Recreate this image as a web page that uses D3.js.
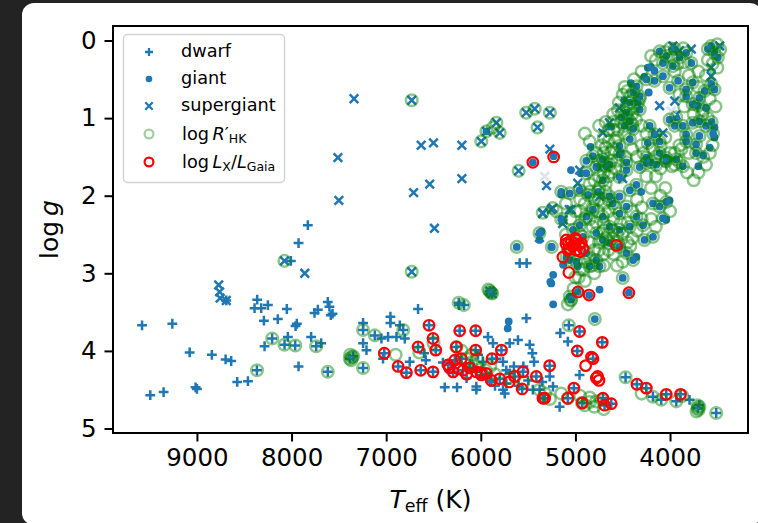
<!DOCTYPE html>
<html>
<head>
<meta charset="utf-8">
<script src="https://cdn.jsdelivr.net/npm/d3@7"></script>
<style>
	html, body { margin: 0; padding: 0; background: #232323; }
	svg { display: block; }
	text { font-family: "DejaVu Sans", sans-serif; fill: #000; }
</style>
</head>
<body>
<div id="chart"></div>
<script>
'use strict';

// [Teff (K), log g]
var dwarf = [
	[9580,3.67],[9260,3.65],[9077,4.02],[8842,4.05],[8697,4.11],[8638,4.13],[9493,4.57],[9352,4.53],
	[9014,4.47],[9000,4.49],[8574,4.40],[8461,4.39],[8366,4.25],[8363,3.34],[8391,3.45],[8321,3.45],
	[8250,3.41],[8292,3.61],[8145,3.59],[8050,3.46],[7958,3.68],[7944,3.65],[7793,3.82],[7617,3.37],
	[7600,3.43],[7757,3.51],[7722,3.47],[7585,3.54],[8205,3.84],[8285,3.94],[8074,3.92],[7962,3.93],
	[8039,3.82],[7926,4.20],[7740,3.94],[7687,3.90],[7617,4.27],[7828,2.38],[7926,2.61],[8007,2.84],
	[8690,3.35],[7567,3.52],[6663,3.46],[6230,3.41],[6177,3.41],[6955,3.56],[6955,3.64],[7244,3.64],
	[7244,3.73],[7120,3.80],[7050,3.84],[6856,3.67],[6821,3.73],[6980,3.82],[6891,3.82],[6803,3.84],
	[7244,3.90],[7208,3.99],[7384,4.10],[7349,4.07],[7244,4.22],[7033,4.10],[6581,4.12],[6599,4.03],
	[6751,4.14],[6381,4.47],[6251,4.47],[6047,4.46],[6047,4.50],[5765,4.50],[5747,4.55],[5518,3.58],
	[5607,3.86],[5695,3.90],[5483,3.92],[5455,4.03],[5437,4.14],[5924,3.82],[5871,3.90],[5835,4.10],
	[5765,4.14],[5730,4.25],[5695,4.29],[5730,4.42],[6117,4.16],[6082,4.22],[6029,4.05],[5976,4.14],
	[5378,4.50],[5589,2.87],[5515,2.87],[6233,3.38],[5905,3.23],[5880,3.26],[5069,3.67],[5160,3.77],
	[5080,3.88],[4956,3.75],[4716,3.89],[4980,4.00],[4814,4.10],[4956,4.31],[5167,4.72],[5272,4.33],
	[5237,4.46],[4470,4.34],[4181,4.59],[4093,4.63],[4040,4.56],[3889,4.56],[3934,4.65],[3706,4.74],
	[3690,4.70],[3512,4.80],[3794,4.63],[4350,4.43],[4251,4.48],[5016,4.48],[5080,4.61],[4928,4.67],
	[4709,4.61],[4692,4.70],[4621,4.68],[6223,3.74],[6054,3.74],[6547,3.67],[6505,3.84],[6476,3.99],
	[6663,3.95],[7020,4.03],[6874,4.20],[6786,4.28],[6635,4.25],[6505,4.27],[6258,3.95],[6054,3.99],
	[5782,3.99],[5882,4.10],[6346,4.18],[6275,4.12],[6205,4.10],[6293,4.27],[6187,4.25],[6117,4.22],
	[6047,4.27],[5994,4.31],[5941,4.29],[5888,4.38],[5800,4.36],[5642,4.33],[5554,4.27],[5413,4.33],
	[5563,4.49],[5343,4.61],[5325,4.61],[5272,4.19],[5900,4.40],[5850,4.45],[5600,4.45],[5500,4.38],
	[5450,4.50],[5350,4.40],[6400,4.15],[6150,4.35],[5650,4.20],[5550,4.20]
];

var giant = [
	[4110,0.14],[4040,0.20],[3950,0.11],[3900,0.22],[3830,0.16],[3775,0.29],[4075,0.29],[3970,0.33],
	[3565,0.07],[3530,0.16],[3495,0.22],[3600,0.11],[4235,0.35],[4165,0.39],[4250,0.50],[4165,0.52],
	[4075,0.46],[4355,0.59],[4390,0.67],[4320,0.72],[4425,0.80],[4340,0.80],[4225,0.67],[4460,0.93],
	[4515,0.99],[4425,1.04],[4480,1.10],[4390,1.14],[4320,0.89],[4005,0.61],[3915,0.52],[3830,0.63],
	[3760,0.54],[3830,0.72],[3690,0.74],[3635,0.65],[3565,0.56],[3530,0.63],[3705,0.84],[3620,0.87],
	[3760,0.82],[4005,1.02],[3935,0.99],[3950,1.10],[3865,1.10],[3830,1.21],[3760,1.06],[3690,1.04],
	[3620,1.10],[3530,1.12],[3530,1.25],[3725,1.34],[3690,1.23],[3830,1.30],[4215,1.10],[4165,1.21],
	[4235,1.32],[4110,1.30],[4110,1.45],[4040,1.51],[4250,1.51],[4200,1.57],[3935,1.53],[3865,1.62],
	[3725,1.45],[4815,1.49],[4710,1.53],[4535,1.47],[4460,1.57],[4885,1.55],[4675,1.62],[4535,1.36],
	[4425,1.27],[4840,1.37],[4945,1.71],[5047,1.67],[4520,1.45],[4766,1.63],[4625,1.11],[4485,0.77],
	[4414,0.55],[4273,0.47],[4203,0.34],[5150,1.95],[5060,1.97],[4955,1.93],[4865,1.99],[4760,1.95],
	[4640,2.01],[4535,2.01],[4425,1.93],[4355,1.86],[4305,1.95],[4885,1.71],[4780,1.63],[4640,1.60],
	[4710,1.80],[4535,1.76],[4460,1.67],[4320,1.63],[4250,1.58],[4145,1.60],[4040,1.56],[4180,2.10],
	[4110,2.14],[4040,2.08],[4005,2.06],[4075,2.29],[4040,2.31],[4285,2.38],[4270,2.57],[4180,2.53],
	[4605,2.10],[4535,2.23],[4460,2.14],[4355,2.27],[4425,2.40],[4535,2.44],[4640,2.40],[4710,2.27],
	[4815,2.18],[4885,2.27],[4955,2.38],[5025,2.44],[4920,2.53],[4780,2.48],[4710,2.57],[4640,2.61],
	[4535,2.66],[4460,2.74],[4390,2.83],[4355,2.79],[4885,2.74],[4780,2.83],[4850,2.91],[4745,2.91],
	[4990,2.85],[4975,2.91],[5060,2.83],[5095,2.79],[5255,2.66],[5360,2.46],[5380,2.57],[5255,3.13],
	[5235,3.02],[5130,2.89],[5620,2.66],[5250,2.66],[5265,3.11],[5235,3.40],[4795,3.59],[4745,3.21],
	[4435,3.25],[5045,3.34],[5060,3.30],[5150,2.30],[5380,2.48],[4500,3.06],[5715,3.71],[5705,3.62],
	[5940,1.17],[4975,3.24],[4855,3.28],[5450,1.57],[5230,1.49],[5150,1.98],[3560,1.05],[3545,1.20],
	[3580,1.38],[3650,1.48],[3700,1.62]
];

var supergiant = [
	[7340,0.75],[6730,0.77],[7510,1.51],[7500,2.06],[6630,1.35],[6500,1.32],[6200,1.35],[6710,1.96],
	[6540,1.85],[6200,1.78],[6490,2.42],[7860,3.00],[6730,2.98],[5940,1.17],[5835,1.06],[5800,1.19],
	[5995,1.30],[5520,0.93],[5430,0.88],[5270,0.93],[5400,1.12],[5600,1.68],[5270,1.40],[5305,1.87],
	[5345,2.22],[5240,2.16],[5380,2.54],[5905,3.23],[5880,3.26],[8075,2.84],[8770,3.15],[8760,3.24],
	[8755,3.32],[8690,3.35],[3970,0.07],[3900,0.13],[3775,0.11],[3475,0.07],[3565,0.35],[3565,0.46],
	[4535,0.87],[4640,1.06],[4710,1.19],[4110,0.84],[3950,0.78],[3938,0.96],[4075,1.19],[4145,1.19],
	[4955,1.67],[4975,1.84],[4745,2.01],[4500,1.78],[5255,2.18],[5345,2.23],[5130,2.31],[5045,2.18],
	[5065,2.18],[5135,2.36]
];

// pale markers under the giant branch
var faint = [[5325,1.75],[3988,0.91]];

var hk = [
	[4110,0.14],[4040,0.20],[3950,0.11],[3900,0.22],[3830,0.16],[3775,0.29],[4075,0.29],[3970,0.33],
	[4000,0.10],[3860,0.10],[3565,0.07],[3530,0.16],[3495,0.22],[3600,0.11],[3500,0.05],[3470,0.12],
	[4250,0.50],[4165,0.52],[4075,0.46],[4355,0.59],[4390,0.67],[4320,0.72],[4425,0.80],[4340,0.80],
	[4460,0.93],[4515,0.99],[4425,1.04],[4480,1.10],[4390,1.14],[4320,0.89],[4400,0.95],[4450,1.00],
	[4360,1.02],[4420,0.88],[4005,0.61],[3915,0.52],[3830,0.63],[3760,0.54],[3830,0.72],[3690,0.74],
	[3635,0.65],[3565,0.56],[3530,0.63],[3705,0.84],[3760,0.82],[4005,1.02],[3935,0.99],[3950,1.10],
	[3865,1.10],[3830,1.21],[3760,1.06],[3690,1.04],[3620,1.10],[3725,1.34],[3690,1.23],[3830,1.30],
	[4215,1.10],[4165,1.21],[4235,1.32],[4110,1.30],[4110,1.45],[4040,1.51],[4250,1.51],[4200,1.57],
	[3935,1.53],[3865,1.62],[3725,1.45],[3950,1.60],[3900,1.57],[4815,1.49],[4710,1.53],[4535,1.47],
	[4460,1.57],[4885,1.55],[4675,1.62],[4535,1.36],[4425,1.27],[4600,1.40],[4650,1.30],[4560,1.25],
	[4700,1.45],[4750,1.55],[5150,1.95],[5060,1.97],[4955,1.93],[4865,1.99],[4760,1.95],[4640,2.01],
	[4535,2.01],[4425,1.93],[4355,1.86],[4885,1.71],[4780,1.63],[4640,1.60],[4710,1.80],[4535,1.76],
	[4460,1.67],[4320,1.63],[4250,1.58],[4145,1.60],[4040,1.56],[4180,2.10],[4110,2.14],[4040,2.08],
	[4075,2.29],[4285,2.38],[4270,2.57],[4180,2.53],[4605,2.10],[4535,2.23],[4460,2.14],[4355,2.27],
	[4425,2.40],[4535,2.44],[4640,2.40],[4710,2.27],[4815,2.18],[4885,2.27],[4955,2.38],[5025,2.44],
	[4920,2.53],[4780,2.48],[4710,2.57],[4640,2.61],[4535,2.66],[4460,2.74],[4390,2.83],[4885,2.74],
	[4780,2.83],[4850,2.91],[4745,2.91],[4990,2.85],[5060,2.83],[5095,2.79],[4700,2.35],[4760,2.20],
	[4600,2.30],[4820,2.40],[4900,2.10],[4560,2.50],[4650,2.70],[5250,2.66],[5620,2.66],[5045,3.34],
	[5060,3.30],[4795,3.59],[4500,3.06],[5150,2.30],[5380,2.48],[5200,2.20],[5100,2.10],[4965,3.05],
	[4320,0.75],[4380,0.85],[4460,0.85],[4400,1.08],[4480,1.20],[4550,1.15],[4520,1.05],[4580,1.30],
	[4620,1.45],[4680,1.38],[4560,1.55],[4620,1.70],[4700,1.70],[4800,1.80],[4750,1.90],[4680,1.95],
	[4850,1.95],[4800,2.05],[4700,2.10],[4650,2.20],[4850,2.30],[4780,2.35],[4700,2.45],[4600,2.55],
	[4950,2.50],[4850,2.60],[4800,2.70],[4700,2.75],[4900,2.85],[4950,2.95],[5000,3.05],[5020,3.20],
	[5050,3.35],[5080,3.40],[4400,2.55],[4450,2.60],[4500,2.85],[4560,2.90],[4050,0.15],[3980,0.22],
	[3920,0.30],[4150,0.25],[3850,0.28],[3550,0.30],[3600,0.25],[3650,1.50],[3620,1.60],[3700,1.70],
	[3750,1.80],[3820,1.70],[3580,1.45],[3550,1.35],[3600,1.00],[3660,0.95],[3560,1.05],[3545,1.20],
	[4000,1.45],[4050,1.55],[4150,1.50],[3980,1.62],[4300,1.10],[4250,1.20],[4600,0.95],[4700,1.25],
	[4900,1.20],[4850,1.30],[4750,1.10],[4680,1.05],[4600,1.15],[4550,0.90],[4500,0.70],[4450,0.65],
	[4380,0.50],[4300,0.40],[4700,1.60],[4650,1.75],[4750,1.75],[4850,1.85],[4950,2.05],[5000,2.20],
	[5050,2.30],[4950,2.20],[4750,2.60],[4650,2.50],[4550,2.60],[4600,2.75],[4700,2.90],[4800,3.00],
	[4900,3.10],[5000,2.75],[5100,2.50],[4450,2.35],[4400,2.20],[4350,2.05],[4300,2.15],[4200,1.90],
	[4150,1.75],[4100,1.65],[4250,1.75],[4350,1.50],[4300,1.35],[4050,1.25],[3900,1.35],[3800,1.45],
	[3950,0.40],[4200,0.20],[3700,0.40],[3650,0.90],[3750,0.95],
	[4480,0.60],[4420,0.72],[4540,0.80],[4600,1.05],[4650,1.15],[4720,1.35],[4780,1.45],[4620,1.55],
	[4580,1.65],[4680,1.85],[4750,2.05],[4820,2.15],[4900,2.30],[4650,2.05],[4580,2.15],[4520,2.35],
	[4600,2.45],[4680,2.55],[4750,2.70],[4850,2.80],[4920,2.95],[4820,2.90],[4500,2.50],[4420,2.65],
	[4350,2.45],[4300,2.30],[4200,2.30],[4150,2.40],[4100,2.00],[4050,1.90],[4000,2.20],[3950,1.45],
	[3880,1.40],[4100,1.35],[4180,1.40],[4280,1.45],[4400,1.40],[4470,1.50],[3800,0.45],[3700,0.60],
	[3620,0.45],[3500,0.35],[3520,0.85],[3580,0.75],[3850,0.85],[3900,0.70],
	[6730,0.77],[6730,2.98],[5940,1.17],[5835,1.06],[5800,1.19],[5995,1.30],[5520,0.93],[5430,0.88],
	[5270,0.93],[5400,1.12],[5600,1.68],[5345,2.22],[5240,2.16],[5905,3.23],[5880,3.26],[8075,2.84],
	[5890,3.25],[5920,3.21],[5870,1.12],
	[8365,4.25],[8205,3.84],[8075,3.92],[7960,3.93],[7740,3.94],[7617,4.27],[6180,3.41],[6233,3.38],
	[7244,3.73],[7120,3.80],[6820,3.73],[7384,4.10],[7349,4.07],[7370,4.12],[7244,4.22],[6258,3.95],
	[6040,4.10],[6100,4.05],[6200,4.00],[5900,4.20],[5700,4.35],[5550,4.40],[5380,4.50],[5320,4.55],
	[5270,4.62],[5070,3.67],[5150,4.55],[5080,4.61],[4930,4.67],[4950,4.58],[4850,4.66],[4800,4.72],
	[4720,4.63],[4470,4.34],[4181,4.59],[4093,4.63],[3934,4.65],[3870,4.58],[3706,4.74],[3720,4.78],
	[3690,4.72],[3512,4.80],[4300,4.55],[5640,4.33],[6650,4.02],[6900,4.05],[6500,3.90],[3710,4.70],
	[3700,4.76],[7360,4.08],[7380,4.05],[6050,4.20],[6100,4.15],[5950,4.25],[5850,4.30],[6150,4.10],
	[4900,4.70],[4850,4.60],[4780,4.65],[4700,4.75]
];

var lx = [
	[5450,1.57],[5230,1.50],[7020,4.03],[6663,3.95],[6547,3.67],[6505,3.84],[6476,3.99],[6874,4.20],
	[6786,4.28],[6635,4.25],[6505,4.27],[6223,3.74],[6054,3.74],[6258,3.95],[6054,3.99],[5782,3.99],
	[5882,4.10],[6346,4.18],[6275,4.12],[6205,4.10],[6293,4.27],[6187,4.25],[6117,4.22],[6047,4.27],
	[5994,4.31],[5941,4.29],[5888,4.38],[5800,4.36],[5642,4.33],[5554,4.27],[5413,4.33],[5563,4.49],
	[5343,4.61],[5325,4.61],[5272,4.19],[4973,3.24],[4856,3.28],[4435,3.25],[4956,3.75],[4716,3.89],
	[4980,4.00],[4814,4.10],[4830,4.08],[4892,4.19],[4779,4.35],[4751,4.38],[4765,4.33],[5016,4.48],
	[5080,4.61],[4928,4.67],[4709,4.61],[4692,4.70],[4621,4.68],[4350,4.43],[4251,4.48],[4040,4.56],
	[3889,4.56],[5096,2.57],[5043,2.59],[4991,2.57],[4938,2.61],[5061,2.68],[4991,2.70],[4920,2.68],
	[5132,2.79],[5010,2.62],[5069,2.99],[4568,2.64],[6330,4.22],[6240,4.23],[6150,4.30],[6000,4.28],
	[5700,4.40],[5070,2.60],[5030,2.65],[4960,2.63],[5100,2.62],[5000,2.55],[4950,2.72],[5080,2.70]
];

var xTicks = [9000, 8000, 7000, 6000, 5000, 4000];
var yTicks = [0, 1, 2, 3, 4, 5];

function drawChart ()	{
	var W = 758, H = 523,
			box = { left: 113, right: 748, top: 26, bottom: 433 },
			blue = '#1f77b4';

	var svg = d3.select('#chart').append('svg')
		.attr('width', W)
		.attr('height', H);

	svg.append('rect').attr('width', W).attr('height', H).attr('fill', '#232323');
	svg.append('rect')
		.attr('x', 22).attr('y', 3)
		.attr('width', 740).attr('height', 522)
		.attr('rx', 12)
		.attr('fill', '#fff');

	var x = d3.scaleLinear().domain([9887, 3176]).range([box.left, box.right]);
	var y = d3.scaleLinear().domain([-0.187, 5.058]).range([box.top, box.bottom]);

	var plot = svg.append('g');

	function place (d)	{
		return 'translate(' + x(d[0]) + ',' + y(d[1]) + ')';
	}

	plot.selectAll('.dwarf').data(dwarf).enter().append('path')
		.attr('class', 'dwarf')
		.attr('transform', place)
		.attr('d', 'M-4.9,0H4.9M0,-4.9V4.9')
		.attr('stroke', blue)
		.attr('stroke-width', 2.5);

	plot.selectAll('.giant').data(giant).enter().append('circle')
		.attr('class', 'giant')
		.attr('cx', function (d) { return x(d[0]); })
		.attr('cy', function (d) { return y(d[1]); })
		.attr('r', 3.9)
		.attr('fill', blue);

	plot.selectAll('.sg').data(supergiant).enter().append('path')
		.attr('class', 'sg')
		.attr('transform', place)
		.attr('d', 'M-4.3,-4.3L4.3,4.3M-4.3,4.3L4.3,-4.3')
		.attr('stroke', blue)
		.attr('stroke-width', 2.5);

	plot.selectAll('.faint').data(faint).enter().append('path')
		.attr('class', 'faint')
		.attr('transform', place)
		.attr('d', 'M-4.3,-4.3L4.3,4.3M-4.3,4.3L4.3,-4.3')
		.attr('stroke', '#dde3ea')
		.attr('stroke-width', 2.5);

	plot.selectAll('.hk').data(hk).enter().append('circle')
		.attr('class', 'hk')
		.attr('cx', function (d) { return x(d[0]); })
		.attr('cy', function (d) { return y(d[1]); })
		.attr('r', 5.8)
		.attr('fill', 'none')
		.attr('stroke', 'green')
		.attr('stroke-opacity', 0.45)
		.attr('stroke-width', 2.5);

	plot.selectAll('.lx').data(lx).enter().append('circle')
		.attr('class', 'lx')
		.attr('cx', function (d) { return x(d[0]); })
		.attr('cy', function (d) { return y(d[1]); })
		.attr('r', 5.3)
		.attr('fill', 'none')
		.attr('stroke', 'red')
		.attr('stroke-width', 2.2);

	// axes
	var xAxis = d3.axisBottom(x).tickValues(xTicks).tickSize(8.5).tickPadding(7).tickFormat(d3.format('d'));
	var yAxis = d3.axisLeft(y).tickValues(yTicks).tickSize(8.5).tickPadding(8).tickFormat(d3.format('d'));

	var gx = svg.append('g').attr('transform', 'translate(0,' + box.bottom + ')').call(xAxis);
	var gy = svg.append('g').attr('transform', 'translate(' + box.left + ',0)').call(yAxis);

	[gx, gy].forEach(function (g)	{
		g.select('.domain').remove();
		g.selectAll('line').attr('stroke', '#000').attr('stroke-width', 2);
		g.selectAll('text')
			.attr('font-family', '"DejaVu Sans", sans-serif')
			.attr('font-size', 24.5)
			.attr('fill', '#000');
	});

	svg.append('rect')
		.attr('x', box.left).attr('y', box.top)
		.attr('width', box.right - box.left)
		.attr('height', box.bottom - box.top)
		.attr('fill', 'none')
		.attr('stroke', '#000')
		.attr('stroke-width', 2);

	// axis labels
	var xl = svg.append('text')
		.attr('x', (box.left + box.right) / 2)
		.attr('y', 508)
		.attr('text-anchor', 'middle')
		.attr('font-size', 25);
	xl.append('tspan').attr('font-style', 'italic').text('T');
	xl.append('tspan').attr('font-size', 17.5).attr('dy', 4).text('eff');
	xl.append('tspan').attr('dy', -4).text('\u00a0(K)');

	var yl = svg.append('text')
		.attr('transform', 'translate(58,' + ((box.top + box.bottom) / 2) + ') rotate(-90)')
		.attr('text-anchor', 'middle')
		.attr('font-size', 25);
	yl.append('tspan').text('log\u2009');
	yl.append('tspan').attr('font-style', 'italic').text('g');

	// legend
	var lg = svg.append('g');
	lg.append('rect')
		.attr('x', 123.5).attr('y', 34.5)
		.attr('width', 161).attr('height', 148)
		.attr('rx', 4)
		.attr('fill', '#fff')
		.attr('fill-opacity', 0.8)
		.attr('stroke', '#d4d4d4')
		.attr('stroke-width', 1.5);

	var mx = 149, rows = [52, 79, 106, 134, 162], fs = 17.7, tx = 181;

	lg.append('path').attr('transform', 'translate(' + mx + ',' + rows[0] + ')')
		.attr('d', 'M-4,0H4M0,-4V4').attr('stroke', blue).attr('stroke-width', 2.3);
	lg.append('circle').attr('cx', mx).attr('cy', rows[1]).attr('r', 3.3).attr('fill', blue);
	lg.append('path').attr('transform', 'translate(' + mx + ',' + rows[2] + ')')
		.attr('d', 'M-3.7,-3.7L3.7,3.7M-3.7,3.7L3.7,-3.7').attr('stroke', blue).attr('stroke-width', 2.3);
	lg.append('circle').attr('cx', mx).attr('cy', rows[3]).attr('r', 4.4)
		.attr('fill', 'none').attr('stroke', 'green').attr('stroke-opacity', 0.38).attr('stroke-width', 2.2);
	lg.append('circle').attr('cx', mx).attr('cy', rows[4]).attr('r', 4.4)
		.attr('fill', 'none').attr('stroke', 'red').attr('stroke-width', 2.2);

	['dwarf', 'giant', 'supergiant'].forEach(function (s, i)	{
		lg.append('text').attr('x', tx).attr('y', rows[i] + 4.5).attr('font-size', fs).text(s);
	});

	var t1 = lg.append('text').attr('x', tx + 1).attr('y', rows[3] + 5.5).attr('font-size', fs);
	t1.append('tspan').text('log\u2009');
	t1.append('tspan').attr('font-style', 'italic').text('R');
	t1.append('tspan').text('\u2032');
	t1.append('tspan').attr('font-size', 12.5).attr('dy', 3).text('HK');

	var t2 = lg.append('text').attr('x', tx + 1).attr('y', rows[4] + 5.5).attr('font-size', fs);
	t2.append('tspan').text('log\u2009');
	t2.append('tspan').attr('font-style', 'italic').text('L');
	t2.append('tspan').attr('font-size', 12.5).attr('dy', 3).text('X');
	t2.append('tspan').attr('dy', -3).text('/');
	t2.append('tspan').attr('font-style', 'italic').text('L');
	t2.append('tspan').attr('font-size', 12.5).attr('dy', 3).text('Gaia');
}

drawChart();
</script>
</body>
</html>
